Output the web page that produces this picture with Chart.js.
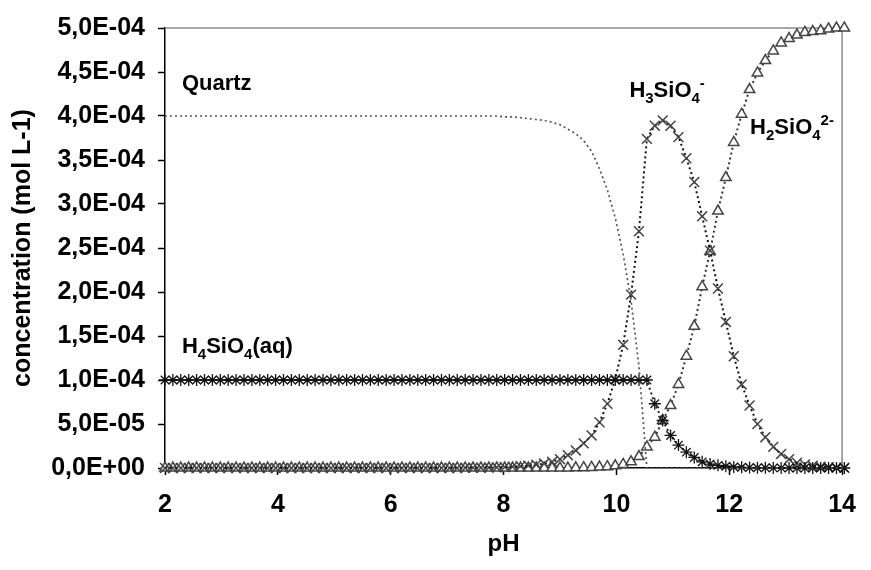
<!DOCTYPE html>
<html>
<head>
<meta charset="utf-8">
<script src="https://cdn.jsdelivr.net/npm/chart.js@4.4.1/dist/chart.umd.min.js"></script>
<style>
  html, body { margin: 0; padding: 0; background: #fff; }
  #box { width: 871px; height: 570px; }
</style>
</head>
<body>
<div id="box"><canvas id="myChart" width="871" height="570"></canvas></div>
<script>
// pH steps of the speciation run
const pH = [
    2.00, 2.14, 2.28, 2.42, 2.56, 2.70, 2.84, 2.98, 3.12, 3.26,
    3.40, 3.54, 3.68, 3.82, 3.96, 4.10, 4.24, 4.38, 4.52, 4.66,
    4.80, 4.94, 5.08, 5.22, 5.36, 5.50, 5.64, 5.78, 5.92, 6.06,
    6.20, 6.34, 6.48, 6.62, 6.76, 6.90, 7.04, 7.18, 7.32, 7.46,
    7.60, 7.74, 7.88, 8.02, 8.16, 8.30, 8.44, 8.58, 8.72, 8.86,
    9.00, 9.14, 9.28, 9.42, 9.56, 9.70, 9.84, 9.98, 10.12, 10.26,
    10.40, 10.54, 10.68, 10.82, 10.96, 11.10, 11.24, 11.38, 11.52, 11.66,
    11.80, 11.94, 12.08, 12.22, 12.36, 12.50, 12.64, 12.78, 12.92, 13.06,
    13.20, 13.34, 13.48, 13.62, 13.76, 13.90, 14.04
];

// concentrations, in units of 1E-04 mol L-1
const quartz = [
    4.00, 4.00, 4.00, 4.00, 4.00, 4.00, 4.00, 4.00, 4.00, 4.00,
    4.00, 4.00, 4.00, 4.00, 4.00, 4.00, 4.00, 4.00, 4.00, 4.00,
    4.00, 4.00, 4.00, 4.00, 4.00, 4.00, 4.00, 4.00, 4.00, 4.00,
    4.00, 4.00, 4.00, 4.00, 4.00, 4.00, 4.00, 4.00, 4.00, 4.00,
    4.00, 4.00, 4.00, 3.99, 3.99, 3.98, 3.97, 3.96, 3.95, 3.93,
    3.90, 3.85, 3.80, 3.72, 3.60, 3.40, 3.16, 2.84, 2.43, 1.90,
    1.15, 0, 0, 0, 0, 0, 0, 0, 0, 0,
    0, 0, 0, 0, 0, 0, 0, 0, 0, 0,
    0, 0, 0, 0, 0, 0, 0
];
const h4sio4 = [
    1.00, 1.00, 1.00, 1.00, 1.00, 1.00, 1.00, 1.00, 1.00, 1.00,
    1.00, 1.00, 1.00, 1.00, 1.00, 1.00, 1.00, 1.00, 1.00, 1.00,
    1.00, 1.00, 1.00, 1.00, 1.00, 1.00, 1.00, 1.00, 1.00, 1.00,
    1.00, 1.00, 1.00, 1.00, 1.00, 1.00, 1.00, 1.00, 1.00, 1.00,
    1.00, 1.00, 1.00, 1.00, 1.00, 1.00, 1.00, 1.00, 1.00, 1.00,
    1.00, 1.00, 1.00, 1.00, 1.00, 1.00, 1.00, 1.00, 1.00, 1.00,
    1.00, 1.00, 0.73, 0.54, 0.37, 0.26, 0.18, 0.12, 0.07, 0.045,
    0.03, 0.02, 0.012, 0.008, 0.005, 0.003, 0.002, 0.001, 0.001, 0,
    0, 0, 0, 0, 0, 0, 0
];
const h3sio4 = [
    0, 0, 0, 0, 0, 0, 0, 0, 0, 0,
    0, 0, 0, 0, 0, 0, 0, 0, 0, 0,
    0, 0, 0, 0, 0, 0, 0, 0, 0, 0,
    0, 0, 0, 0, 0, 0, 0, 0, 0.002, 0.003,
    0.004, 0.005, 0.007, 0.010, 0.014, 0.020, 0.027, 0.037, 0.050, 0.070,
    0.10, 0.146, 0.20, 0.28, 0.37, 0.52, 0.73, 1.01, 1.40, 1.97,
    2.69, 3.74, 3.89, 3.95, 3.89, 3.76, 3.52, 3.25, 2.86, 2.47,
    2.04, 1.66, 1.27, 0.95, 0.71, 0.50, 0.35, 0.24, 0.16, 0.10,
    0.06, 0.04, 0.025, 0.015, 0.01, 0.005, 0.003
];
const h2sio4 = [
    0, 0, 0, 0, 0, 0, 0, 0, 0, 0,
    0, 0, 0, 0, 0, 0, 0, 0, 0, 0,
    0, 0, 0, 0, 0, 0, 0, 0, 0, 0,
    0, 0, 0, 0, 0, 0, 0, 0, 0, 0,
    0, 0, 0, 0, 0, 0, 0, 0, 0, 0,
    0, 0, 0.002, 0.004, 0.006, 0.01, 0.015, 0.025, 0.04, 0.07,
    0.13, 0.24, 0.35, 0.54, 0.71, 0.95, 1.27, 1.61, 2.06, 2.46,
    2.92, 3.30, 3.70, 4.02, 4.30, 4.49, 4.63, 4.74, 4.83, 4.88,
    4.92, 4.95, 4.96, 4.97, 4.99, 5.00, 5.00
];

const xTicks = [2, 4, 6, 8, 10, 12, 14];
const yTicks = [0, 0.5, 1.0, 1.5, 2.0, 2.5, 3.0, 3.5, 4.0, 4.5, 5.0];

// curve labels: [pH, conc (1E-04), pieces] ; s = subscript, p = superscript
const curveLabels = [
    [2.30, 4.29, [['Quartz', '']]],
    [2.30, 1.31, [['H', ''], ['4', 's'], ['SiO', ''], ['4', 's'], ['(aq)', '']]],
    [10.23, 4.22, [['H', ''], ['3', 's'], ['SiO', ''], ['4', 's'], ['-', 'p']]],
    [12.37, 3.79, [['H', ''], ['2', 's'], ['SiO', ''], ['4', 's'], ['2-', 'p']]]
];

const FONT = '"Liberation Sans", Arial, sans-serif';

function points(ys) {
    return pH.map((x, i) => ({x: x, y: ys[i] * 1e-4}));
}

function sciLabel(v) {
    let s = Number(v).toExponential(1).split('e');
    let e = parseInt(s[1]);
    return s[0].replace('.', ',') + 'E' + (e < 0 ? '-' : '+') + String(Math.abs(e)).padStart(2, '0');
}

// top and right frame of the plot area, and the curve names
const framePlugin = {
    id: 'frame',
    beforeDatasetsDraw(chart) {
        let a = chart.chartArea;
        let ctx = chart.ctx;
        ctx.save();
        ctx.strokeStyle = '#8a8a8a';
        ctx.lineWidth = 1.5;
        ctx.beginPath();
        ctx.moveTo(a.left, a.top);
        ctx.lineTo(a.right, a.top);
        ctx.lineTo(a.right, a.bottom);
        ctx.stroke();
        ctx.restore();
    },
    afterDraw(chart) {
        let ctx = chart.ctx;
        let xs = chart.scales.x, ys = chart.scales.y;
        ctx.save();
        ctx.fillStyle = '#000';
        ctx.textBaseline = 'alphabetic';
        curveLabels.forEach(function (lab) {
            let x = xs.getPixelForValue(lab[0]);
            let y = ys.getPixelForValue(lab[1] * 1e-4);
            lab[2].forEach(function (p) {
                let dy = 0;
                if (p[1] === '') ctx.font = 'bold 22px ' + FONT;
                else ctx.font = 'bold 15px ' + FONT;
                if (p[1] === 's') dy = 6;
                if (p[1] === 'p') dy = -9;
                ctx.fillText(p[0], x, y + dy);
                x += ctx.measureText(p[0]).width;
            });
        });
        ctx.restore();
    }
};

function drawGraph() {
    let ctx = document.getElementById('myChart');
    new Chart(ctx, {
        type: 'scatter',
        data: {
            datasets: [{
                label: 'Quartz',
                data: points(quartz),
                showLine: true,
                borderColor: '#555',
                borderWidth: 1.7,
                borderDash: [2, 3],
                pointRadius: 0,
                clip: false
            }, {
                label: 'H4SiO4(aq)',
                data: points(h4sio4),
                showLine: true,
                borderColor: '#222',
                borderWidth: 2,
                borderDash: [2, 3],
                pointStyle: 'star',
                pointRadius: 6,
                pointBorderWidth: 1.3,
                pointBorderColor: '#111',
                clip: false
            }, {
                label: 'H3SiO4-',
                data: points(h3sio4),
                showLine: true,
                borderColor: '#111',
                borderWidth: 2,
                borderDash: [2, 3],
                pointStyle: 'crossRot',
                pointRadius: 7,
                pointBorderWidth: 1.5,
                pointBorderColor: '#444',
                clip: false
            }, {
                label: 'H2SiO4 2-',
                data: points(h2sio4),
                showLine: true,
                borderColor: '#333',
                borderWidth: 2,
                borderDash: [2, 3],
                pointStyle: 'triangle',
                pointRadius: 6,
                pointBorderWidth: 1.5,
                pointBorderColor: '#444',
                pointBackgroundColor: '#fff',
                clip: false
            }]
        },
        options: {
            responsive: false,
            animation: false,
            layout: { padding: { top: 23, right: 21, left: 0, bottom: 0 } },
            plugins: {
                legend: { display: false },
                tooltip: { enabled: false }
            },
            scales: {
                x: {
                    type: 'linear',
                    min: 2,
                    max: 14,
                    afterFit: function (s) { s.height = 102; },
                    afterBuildTicks: function (s) { s.ticks = xTicks.map(v => ({value: v})); },
                    grid: { drawOnChartArea: false, tickLength: 7, tickColor: '#000', tickWidth: 1.5 },
                    border: { color: '#000', width: 1.5 },
                    ticks: {
                        color: '#000',
                        padding: 15,
                        maxRotation: 0,
                        font: { family: FONT, size: 25, weight: 'bold' }
                    },
                    title: {
                        display: true,
                        text: 'pH',
                        color: '#000',
                        padding: { top: 0, bottom: 11 },
                        font: { family: FONT, size: 24, weight: 'bold' }
                    }
                },
                y: {
                    type: 'linear',
                    min: 0,
                    max: 5e-4,
                    afterFit: function (s) { s.width = 165; },
                    afterBuildTicks: function (s) { s.ticks = yTicks.map(v => ({value: v * 1e-4})); },
                    grid: { drawOnChartArea: false, tickLength: 7, tickColor: '#000', tickWidth: 1.5 },
                    border: { color: '#000', width: 1.5 },
                    ticks: {
                        color: '#000',
                        padding: 13,
                        font: { family: FONT, size: 25, weight: 'bold' },
                        callback: function (v) { return sciLabel(v); }
                    },
                    title: {
                        display: true,
                        text: 'concentration (mol L-1)',
                        color: '#000',
                        padding: { top: 8, bottom: 0 },
                        font: { family: FONT, size: 25, weight: 'bold' }
                    }
                }
            }
        },
        plugins: [framePlugin]
    });
}

drawGraph();
</script>
</body>
</html>
